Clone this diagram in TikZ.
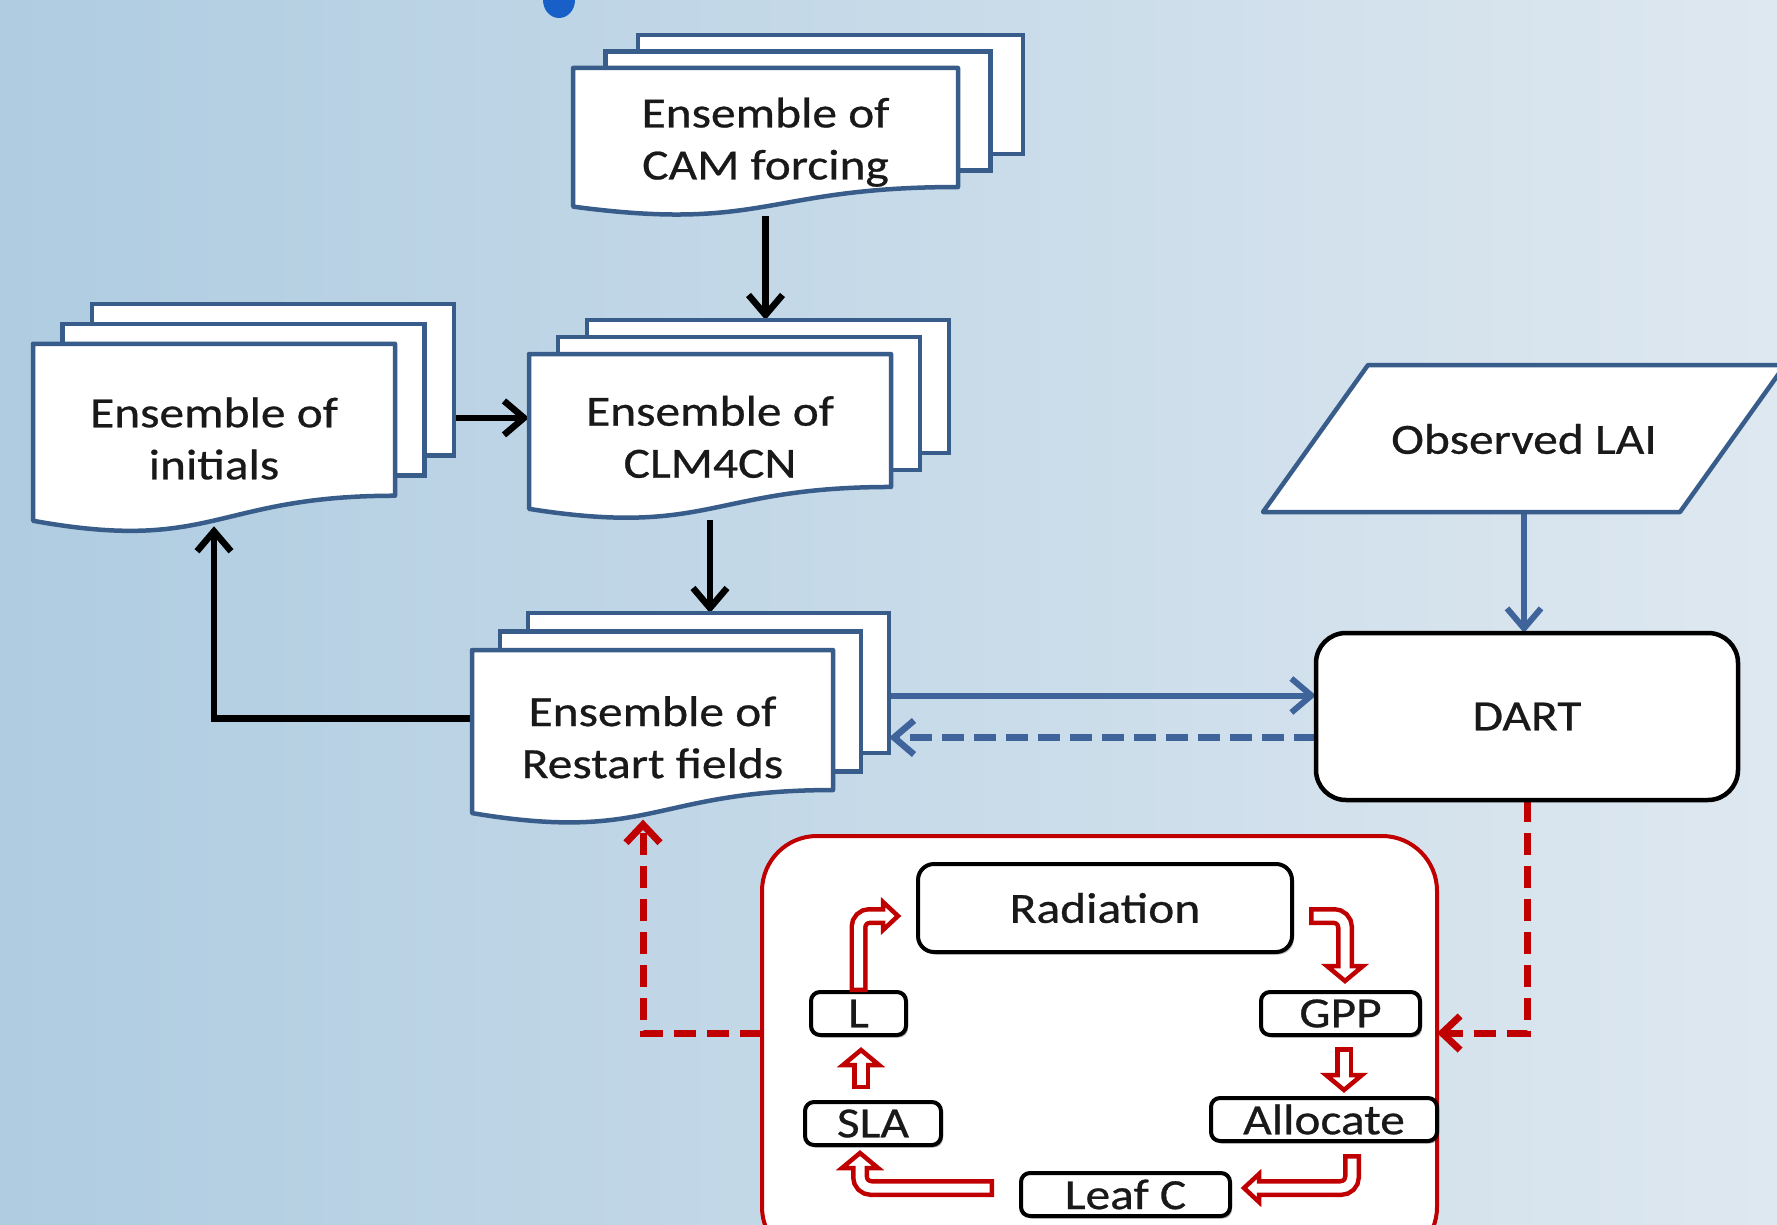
\documentclass[tikz,border=0pt]{standalone}
\usepackage{fontspec}
\newfontfamily\diagfont{Carlito}[FakeStretch=1.15,FakeBold=0.6]
\usetikzlibrary{arrows.meta,calc,shadows}
\definecolor{bgL}{RGB}{175,204,225}
\definecolor{bgR}{RGB}{222,232,240}
\definecolor{sheetblue}{RGB}{56,93,138}
\definecolor{arrblue}{RGB}{62,100,155}
\definecolor{redC}{RGB}{192,0,0}
\definecolor{blobblue}{RGB}{25,95,200}
\pgfdeclarelayer{bgl}
\pgfdeclarelayer{arr}
\pgfdeclarelayer{sheet}
\pgfsetlayers{bgl,arr,sheet,main}

% #1 name, #2 cx, #3 cy, #4 W, #5 H (full), #6 dx, #7 dy, #8 text
\newcommand\docstack[8]{%
  \node[doctext, minimum width=#4pt, minimum height=#5pt] (#1) at (#2,#3) {#8};
  \begin{pgfonlayer}{sheet}
    \node[backsheet, minimum width=#4pt, minimum height={0.802*#5pt}] (#1-3) at ($(#1.north west)+({2*#6},{-2*#7})$) {};
    \node[backsheet, minimum width=#4pt, minimum height={0.802*#5pt}] (#1-2) at ($(#1.north west)+(#6,-#7)$) {};
    \path[frontsheet] (#1.north west) -- (#1.north east) -- ($(#1.north east)!0.802!(#1.south east)$)
      .. controls ($(#1.north)!0.802!(#1.south)$) and ($(#1.north)!1.1075!(#1.south)$) .. ($(#1.north west)!0.934!(#1.south west)$) -- cycle;
  \end{pgfonlayer}
}
% hollow block arrows
\newcommand\hollowbent[5]{%
  \draw[hred] (#1) -- (#2) -- (#3);
  \draw[hhead] ($(#3)!#5pt!90:(#4)$) -- (#4) -- ($(#3)!#5pt!-90:(#4)$) -- cycle;
  \draw[hwhite] ($(#1)!4.5pt!(#2)$) -- (#2) -- ($(#3)!6pt!(#4)$);
}
\newcommand\hollowstraight[4]{%
  \draw[hred] (#1) -- (#2);
  \draw[hhead] ($(#2)!#4pt!90:(#3)$) -- (#3) -- ($(#2)!#4pt!-90:(#3)$) -- cycle;
  \draw[hwhite] ($(#1)!4.5pt!(#2)$) -- ($(#2)!6pt!(#3)$);
}

\begin{document}
\begin{tikzpicture}[x=1pt,y=-1pt,
  doctext/.style={inner sep=0pt, outer sep=0pt, align=center, text=black!90,
    font=\diagfont\fontsize{43}{52}\selectfont},
  backsheet/.style={draw=sheetblue, fill=white, line width=4.5pt, inner sep=0pt, outer sep=0pt, anchor=north west},
  frontsheet/.style={draw=sheetblue, fill=white, line width=4.5pt, line join=round},
  box/.style={doctext, draw=black, fill=white, line width=4pt, rounded corners=9pt,
    drop shadow={shadow xshift=2pt, shadow yshift=-2.5pt, opacity=0.3, fill=black}},
  blk/.style={draw=black, line width=6.5pt, -{Straight Barb[length=20pt,width=34pt]}},
  bl/.style={draw=arrblue, line width=6pt, -{Straight Barb[length=20pt,width=34pt]}},
  bld/.style={bl, line width=6.5pt, dash pattern=on 22pt off 10pt},
  reddash/.style={draw=redC, line width=7pt, dash pattern=on 22pt off 11pt, -{Straight Barb[length=18pt,width=34pt]}},
  hred/.style={draw=redC, line width=18pt, rounded corners=11pt},
  hwhite/.style={draw=white, line width=9pt, rounded corners=11pt},
  hhead/.style={draw=redC, fill=white, line width=4.5pt, line join=miter}
]
\useasboundingbox (0,0) rectangle (1777,1225);
\begin{pgfonlayer}{bgl}
  \shade[left color=bgL, right color=bgR] (0,0) rectangle (1777,1225);
  \fill[blobblue] (559,0) ellipse [x radius=16pt, y radius=18pt];
\end{pgfonlayer}

% document stacks
\docstack{cam}{765.5}{142.2}{385}{148.4}{32.5}{16.5}{Ensemble of\\CAM forcing}
\docstack{ini}{214}{438.5}{362}{189.5}{29.5}{20}{Ensemble of\\initials}
\docstack{clm}{710}{436.9}{362}{165.8}{29}{17}{Ensemble of\\CLM4CN}
\docstack{rst}{652.5}{737.3}{361}{174.6}{28}{18.5}{Ensemble of\\Restart fields}

% observed LAI
\node[doctext] (lai) at (1524,439) {Observed LAI};
\begin{pgfonlayer}{sheet}
  \path[frontsheet] (1263,512) -- (1368,365) -- (1785,365) -- (1680,512) -- cycle;
\end{pgfonlayer}

% DART
\node[doctext, draw=black, fill=white, line width=4.5pt, rounded corners=30pt,
  minimum width=422pt, minimum height=167pt] (dart) at (1527,716.5) {DART};

% red container
\begin{pgfonlayer}{sheet}
  \node[draw=redC, fill=white, line width=4pt, rounded corners=55pt,
    minimum width=675pt, minimum height=426pt, inner sep=0pt, outer sep=0pt] (cont) at (1099.5,1049) {};
\end{pgfonlayer}

% inner cycle
\node[box, minimum width=374pt, minimum height=88pt, rounded corners=16pt] (rad) at (1105,908) {Radiation};
\node[box, minimum width=159pt, minimum height=43pt] (gpp) at (1340.5,1013.5) {GPP};
\node[box, minimum width=226pt, minimum height=43pt] (alloc) at (1324,1119.5) {Allocate};
\node[box, minimum width=209pt, minimum height=43pt] (leafc) at (1125.5,1194.5) {Leaf C};
\node[box, minimum width=136pt, minimum height=43pt] (sla) at (873,1123.5) {SLA};
\node[box, minimum width=95pt, minimum height=43pt] (lbox) at (858.5,1013.5) {L};

% hollow arrows
\coordinate (t1) at (898,916);
\coordinate (c1) at (lbox.north |- t1);
\coordinate (b1) at ([xshift=-15pt]t1);
\hollowbent{lbox.north}{c1}{b1}{t1}{14}

\coordinate (s2) at (1309,916);
\coordinate (t2) at (1345,981);
\coordinate (c2) at (t2 |- s2);
\coordinate (b2) at ([yshift=15pt]t2);
\hollowbent{s2}{c2}{b2}{t2}{18}

\coordinate (s3) at (1344,1047);
\coordinate (t3) at (1344,1090);
\coordinate (b3) at ([yshift=15pt]t3);
\hollowstraight{s3}{b3}{t3}{18}

\coordinate (s4) at (1352,1154);
\coordinate (t4) at (1244,1188);
\coordinate (c4) at (s4 |- t4);
\coordinate (b4) at ([xshift=15pt]t4);
\hollowbent{s4}{c4}{b4}{t4}{14}

\coordinate (s5) at (994,1188);
\coordinate (t5) at (860,1153);
\coordinate (c5) at (t5 |- s5);
\coordinate (b5) at ([yshift=-15pt]t5);
\hollowbent{s5}{c5}{b5}{t5}{18}

\coordinate (s6) at (861,1089);
\coordinate (t6) at (861,1050);
\coordinate (b6) at ([yshift=-15pt]t6);
\hollowstraight{s6}{b6}{t6}{18}

% connectors
\begin{pgfonlayer}{arr}
  \draw[blk] (cam) -- (cam |- clm-3.north);
  \coordinate (a1) at ([yshift=19pt]clm.west);
  \draw[blk] (ini |- a1) -- (a1);
  \draw[blk] (clm) -- (clm |- rst-3.north);
  \draw[blk, shorten >=-7pt] ([yshift=19pt]rst.west) -| (ini.south);
  \coordinate (d1) at ([yshift=21pt]dart.west);
  \coordinate (d2) at ([yshift=-21pt]dart.west);
  \draw[bl] (rst |- d1) -- (d1);
  \draw[bld] (d2) -- (rst-3.east |- d2);
  \draw[bl] (lai) -- (lai |- dart.north);
  \draw[reddash] (dart.south) |- ([yshift=16pt]cont.east);
  \draw[reddash, shorten >=-5pt] ([yshift=16pt]cont.west) -| ([xshift=-9.5pt]rst.south);
\end{pgfonlayer}
\end{tikzpicture}
\end{document}
